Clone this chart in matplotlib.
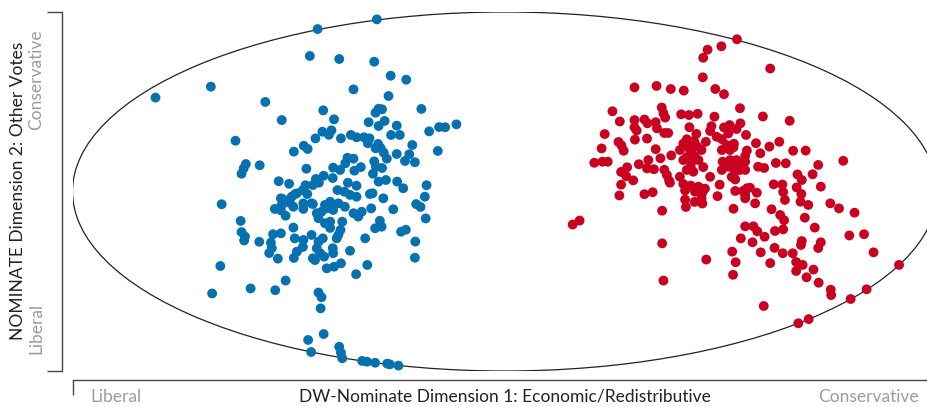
"""
DW-Nominate scatter: House members on two dimensions, unit ellipse drawn round them
"""

import matplotlib
matplotlib.use('Agg')
import matplotlib.pyplot as plt
from matplotlib.patches import Ellipse

################################################################################
# Democrats (blue) - dimension 1, dimension 2
dem_x = [-0.808, -0.680, -0.433, -0.296, -0.451, -0.383, -0.302, -0.264, -0.228, -0.350,
         -0.269, -0.554, -0.516, -0.420, -0.395, -0.292, -0.284, -0.299, -0.193, -0.315,
         -0.278, -0.292, -0.250, -0.263, -0.243, -0.175, -0.152, -0.138, -0.112, -0.623,
         -0.422, -0.401, -0.407, -0.438, -0.379, -0.356, -0.343, -0.326, -0.313, -0.317,
         -0.465, -0.456, -0.488, -0.293, -0.287, -0.299, -0.214, -0.155, -0.280, -0.273,
         -0.250, -0.221, -0.231, -0.208, -0.599, -0.604, -0.609, -0.567, -0.364, -0.350,
         -0.369, -0.302, -0.298, -0.284, -0.305, -0.459, -0.397, -0.381, -0.398, -0.419,
         -0.437, -0.430, -0.444, -0.461, -0.467, -0.457, -0.481, -0.348, -0.333, -0.523,
         -0.499, -0.363, -0.343, -0.292, -0.275, -0.249, -0.235, -0.181, -0.185, -0.387,
         -0.312, -0.281, -0.518, -0.493, -0.371, -0.358, -0.343, -0.655, -0.513, -0.516,
         -0.497, -0.532, -0.518, -0.507, -0.489, -0.466, -0.466, -0.444, -0.431, -0.424,
         -0.412, -0.404, -0.385, -0.370, -0.397, -0.350, -0.339, -0.331, -0.309, -0.258,
         -0.205, -0.195, -0.376, -0.380, -0.385, -0.389, -0.404, -0.404, -0.289, -0.285,
         -0.300, -0.240, -0.229, -0.323, -0.183, -0.358, -0.398, -0.397, -0.379, -0.395,
         -0.344, -0.318, -0.207, -0.208, -0.611, -0.609, -0.601, -0.603, -0.568, -0.536,
         -0.518, -0.541, -0.539, -0.545, -0.489, -0.486, -0.466, -0.467, -0.481, -0.488,
         -0.447, -0.431, -0.435, -0.421, -0.444, -0.439, -0.418, -0.525, -0.658, -0.507,
         -0.677, -0.588, -0.531, -0.431, -0.424, -0.426, -0.419, -0.455, -0.448, -0.383,
         -0.379, -0.376, -0.330, -0.319, -0.300, -0.272, -0.266, -0.246, -0.435, -0.416,
         -0.427, -0.412, -0.416, -0.485, -0.447, -0.306]
dem_y = [0.523, 0.584, 0.905, 0.959, 0.755, 0.738, 0.723, 0.645, 0.623, 0.569,
         0.532, 0.499, 0.398, 0.452, 0.402, 0.461, 0.458, 0.439, 0.460, 0.386,
         0.393, 0.365, 0.367, 0.315, 0.315, 0.335, 0.359, 0.358, 0.374, 0.283,
         0.333, 0.341, 0.316, 0.296, 0.296, 0.315, 0.302, 0.302, 0.296, 0.269,
         0.255, 0.237, 0.222, 0.265, 0.241, 0.241, 0.259, 0.226, 0.216, 0.183,
         0.209, 0.207, 0.170, 0.163, 0.153, 0.129, 0.099, 0.146, 0.188, 0.183,
         0.157, 0.168, 0.138, 0.131, 0.099, 0.127, 0.133, 0.120, 0.075, 0.088,
         0.070, 0.049, 0.036, 0.035, 0.008, -0.014, -0.010, 0.116, 0.136, 0.057,
         0.043, 0.049, 0.032, 0.055, 0.064, 0.055, 0.018, 0.035, -0.029, 0.008,
         -0.014, -0.038, -0.038, -0.029, -0.001, -0.019, -0.029, -0.071, -0.043, -0.075,
         -0.064, -0.097, -0.105, -0.135, -0.085, -0.066, -0.097, -0.070, -0.149, -0.113,
         -0.094, -0.057, -0.066, -0.085, -0.103, -0.121, -0.140, -0.113, -0.094, -0.099,
         -0.070, -0.086, -0.168, -0.214, -0.242, -0.261, -0.168, -0.203, -0.163, -0.196,
         -0.205, -0.224, -0.213, -0.261, -0.150, -0.330, -0.316, -0.344, -0.400, -0.419,
         -0.461, -0.409, -0.279, -0.369, -0.164, -0.226, -0.251, -0.273, -0.280, -0.238,
         -0.233, -0.285, -0.316, -0.343, -0.201, -0.261, -0.270, -0.309, -0.335, -0.370,
         -0.242, -0.280, -0.316, -0.261, -0.372, -0.382, -0.363, -0.374, -0.415, -0.496,
         -0.568, -0.540, -0.550, -0.563, -0.589, -0.651, -0.794, -0.827, -0.894, -0.865,
         -0.898, -0.929, -0.944, -0.948, -0.954, -0.959, -0.963, -0.970, -0.121, -0.177,
         -0.344, -0.428, -0.075, -0.014, -0.066, -0.010]

# Republicans (red) - dimension 1, dimension 2
rep_x = [0.537, 0.501, 0.469, 0.459, 0.614, 0.458, 0.300, 0.351, 0.384, 0.414,
         0.487, 0.507, 0.249, 0.363, 0.367, 0.371, 0.544, 0.597, 0.659, 0.266,
         0.300, 0.323, 0.330, 0.349, 0.352, 0.408, 0.426, 0.446, 0.485, 0.545,
         0.536, 0.520, 0.507, 0.478, 0.475, 0.558, 0.427, 0.369, 0.378, 0.231,
         0.300, 0.305, 0.301, 0.329, 0.443, 0.421, 0.438, 0.413, 0.424, 0.405,
         0.465, 0.490, 0.502, 0.517, 0.513, 0.530, 0.581, 0.612, 0.635, 0.667,
         0.696, 0.224, 0.263, 0.270, 0.275, 0.349, 0.385, 0.360, 0.560, 0.556,
         0.591, 0.783, 0.725, 0.207, 0.226, 0.238, 0.283, 0.269, 0.310, 0.332,
         0.329, 0.345, 0.369, 0.375, 0.380, 0.413, 0.421, 0.432, 0.430, 0.436,
         0.421, 0.432, 0.440, 0.455, 0.448, 0.459, 0.475, 0.504, 0.521, 0.517,
         0.533, 0.552, 0.544, 0.533, 0.502, 0.525, 0.586, 0.600, 0.627, 0.650,
         0.677, 0.687, 0.712, 0.731, 0.281, 0.297, 0.269, 0.405, 0.413, 0.430,
         0.448, 0.463, 0.497, 0.533, 0.533, 0.551, 0.567, 0.583, 0.622, 0.642,
         0.644, 0.675, 0.686, 0.265, 0.323, 0.342, 0.382, 0.417, 0.440, 0.457,
         0.492, 0.417, 0.419, 0.439, 0.457, 0.556, 0.579, 0.648, 0.684, 0.702,
         0.753, 0.773, 0.809, 0.364, 0.529, 0.617, 0.637, 0.646, 0.694, 0.717,
         0.157, 0.173, 0.556, 0.575, 0.584, 0.601, 0.625, 0.644, 0.546, 0.573,
         0.592, 0.526, 0.534, 0.528, 0.364, 0.466, 0.614, 0.624, 0.643, 0.666,
         0.687, 0.685, 0.731, 0.725, 0.674, 0.689, 0.674, 0.714, 0.698, 0.726,
         0.797, 0.831, 0.853, 0.912, 0.754, 0.755, 0.800, 0.837, 0.367, 0.599,
         0.679, 0.703, 0.529, 0.536, 0.556, 0.529, 0.556, 0.560, 0.556, 0.521,
         0.502, 0.455, 0.444]
rep_y = [0.848, 0.809, 0.790, 0.745, 0.685, 0.636, 0.580, 0.588, 0.571, 0.562,
         0.571, 0.542, 0.447, 0.468, 0.436, 0.412, 0.464, 0.418, 0.394, 0.390,
         0.398, 0.401, 0.380, 0.386, 0.352, 0.430, 0.426, 0.433, 0.417, 0.380,
         0.348, 0.370, 0.357, 0.364, 0.337, 0.315, 0.358, 0.326, 0.326, 0.320,
         0.357, 0.340, 0.289, 0.295, 0.321, 0.291, 0.281, 0.267, 0.245, 0.231,
         0.277, 0.305, 0.292, 0.324, 0.259, 0.266, 0.269, 0.250, 0.277, 0.227,
         0.228, 0.240, 0.276, 0.256, 0.227, 0.236, 0.201, 0.185, 0.228, 0.198,
         0.213, 0.171, 0.148, 0.160, 0.166, 0.166, 0.135, 0.109, 0.152, 0.175,
         0.129, 0.124, 0.121, 0.092, 0.061, 0.175, 0.192, 0.166, 0.139, 0.110,
         0.120, 0.222, 0.194, 0.231, 0.175, 0.136, 0.082, 0.166, 0.175, 0.138,
         0.138, 0.157, 0.120, 0.110, 0.120, 0.082, 0.138, 0.131, 0.159, 0.157,
         0.095, 0.064, 0.096, 0.027, 0.085, 0.062, 0.038, 0.082, 0.042, 0.033,
         0.027, 0.016, 0.038, 0.067, 0.003, 0.003, 0.021, -0.007, 0.040, 0.039,
         -0.003, 0.023, -0.014, -0.022, -0.015, -0.004, 0.049, 0.006, -0.001, -0.007,
         -0.026, -0.045, -0.086, -0.058, -0.067, -0.038, -0.066, -0.047, -0.057, -0.075,
         -0.066, -0.094, -0.118, -0.107, -0.096, -0.099, -0.131, -0.160, -0.146, -0.201,
         -0.184, -0.162, -0.194, -0.194, -0.222, -0.252, -0.220, -0.211, -0.261, -0.283,
         -0.339, -0.335, -0.394, -0.464, -0.289, -0.379, -0.399, -0.314, -0.344, -0.344,
         -0.276, -0.298, -0.283, -0.315, -0.393, -0.409, -0.443, -0.435, -0.478, -0.508,
         -0.245, -0.238, -0.339, -0.409, -0.547, -0.577, -0.599, -0.545, -0.496, -0.638,
         -0.734, -0.711, 0.246, 0.175, 0.166, 0.129, 0.120, 0.018, -0.019, 0.231,
         0.231, -0.038, 0.253]

dem_clr = '#0571b0'
rep_clr = '#ca0020'
lbl_clr = '#9c9c9c'
axis_clr = '#444444'

################################################################################
plt.rcParams['font.family'] = ['Lato', 'DejaVu Sans']

fig = plt.figure(figsize=(9.27, 4.07), dpi=100)
# axes box matches the unit ellipse; right end runs past the edge of the figure
ax = fig.add_axes([72.5/927, 36/407, 864.6/927, 359/407])
ax.set_xlim(-1, 1)
ax.set_ylim(-1, 1)

# unit circle in data units
ax.add_patch(Ellipse((0, 0), 2, 2, fill=False, edgecolor='#222222', linewidth=0.9, zorder=1))

ax.scatter(dem_x, dem_y, s=50, color=dem_clr, edgecolors='none', zorder=2, clip_on=False)
ax.scatter(rep_x, rep_y, s=50, color=rep_clr, edgecolors='none', zorder=2, clip_on=False)

# bracket-like axes pushed out from the plot
for side in ['top', 'right']:
    ax.spines[side].set_visible(False)
ax.spines['left'].set_position(('outward', 7.5))
ax.spines['bottom'].set_position(('outward', 6.5))
for side in ['left', 'bottom']:
    ax.spines[side].set_color(axis_clr)
    ax.spines[side].set_linewidth(1)
ax.set_xticks([-1, 1])
ax.set_yticks([-1, 1])
ax.set_xticklabels([])
ax.set_yticklabels([])
ax.tick_params(axis='both', length=11, width=1, color=axis_clr, direction='out')

# axis titles and end labels
fs = 12.5
fig.text(505/927, 1 - 397/407, 'DW-Nominate Dimension 1: Economic/Redistributive',
         ha='center', va='center', fontsize=fs, color='#222222')
fig.text(90/927, 1 - 397/407, 'Liberal', ha='left', va='center', fontsize=fs, color=lbl_clr)
fig.text(919/927, 1 - 397/407, 'Conservative', ha='right', va='center', fontsize=fs, color=lbl_clr)

fig.text(18/927, 1 - 191/407, 'NOMINATE Dimension 2: Other Votes', rotation=90,
         ha='center', va='center', fontsize=fs, color='#222222')
fig.text(36/927, 1 - 29/407, 'Conservative', rotation=90, ha='center', va='top',
         fontsize=fs, color=lbl_clr)
fig.text(36/927, 1 - 354/407, 'Liberal', rotation=90, ha='center', va='bottom',
         fontsize=fs, color=lbl_clr)

plt.savefig('out.png', dpi=100)
